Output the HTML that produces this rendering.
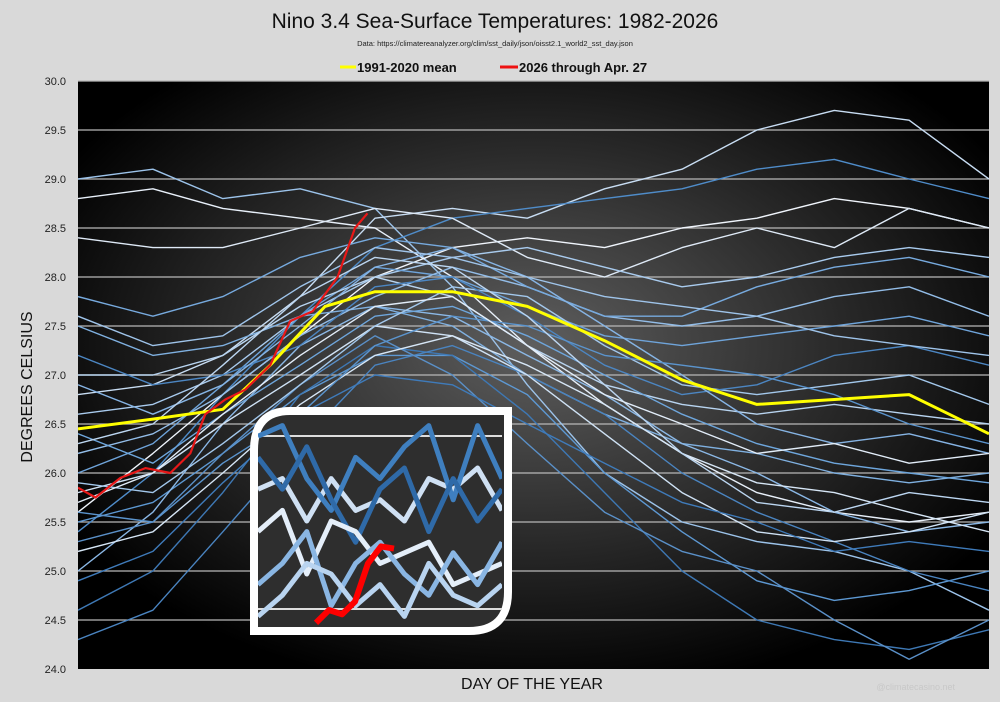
<!DOCTYPE html>
<html><head><meta charset="utf-8">
<style>
body{margin:0;background:#d9d9d9;font-family:"Liberation Sans",sans-serif;}
#wrap{position:relative;width:1000px;height:702px;overflow:hidden;background:#d9d9d9;}
svg text{font-family:"Liberation Sans",sans-serif;}
</style></head>
<body>
<div id="wrap">
<svg id="chart" width="1000" height="702" viewBox="0 0 1000 702">
<defs>
<radialGradient id="bg" cx="0.5" cy="0.45" r="0.6">
<stop offset="0" stop-color="#5e5e5e"/>
<stop offset="0.55" stop-color="#2a2a2a"/>
<stop offset="1" stop-color="#000"/>
</radialGradient>
<clipPath id="plotclip"><rect x="78" y="81" width="911" height="588"/></clipPath>
<clipPath id="insetclip"><rect x="258" y="415" width="244" height="212"/></clipPath>
</defs>
<text x="495" y="28" font-size="21" text-anchor="middle" fill="#111">Nino 3.4 Sea-Surface Temperatures: 1982-2026</text>
<text x="495" y="46" font-size="7.5" text-anchor="middle" fill="#222">Data: https://climatereanalyzer.org/clim/sst_daily/json/oisst2.1_world2_sst_day.json</text>
<g>
<g><line x1="340" y1="67" x2="356" y2="67" stroke="#ffff00" stroke-width="3"/><text x="357" y="72" font-size="13" font-weight="bold" fill="#111">1991-2020 mean</text></g>
<g><line x1="500" y1="67" x2="518" y2="67" stroke="#ee1111" stroke-width="3"/><text x="519" y="72" font-size="13" font-weight="bold" fill="#111">2026 through Apr. 27</text></g>
</g>
<rect x="78" y="81" width="911" height="588" fill="url(#bg)"/>
<g id="grid"></g>
<g id="yticks"></g>
<g id="series" clip-path="url(#plotclip)"></g>
<g id="meanG" clip-path="url(#plotclip)"></g>
<g id="redG" clip-path="url(#plotclip)"></g>
<g>
<path d="M290,411 H508 V592 Q508,631 469,631 H254 V450 Q254,411 290,411 Z" fill="#2e2e2e" stroke="#fff" stroke-width="8"/>
<g id="insetG" clip-path="url(#insetclip)"></g>
</g>
<text x="20" y="375" font-size="16" fill="#111" transform="rotate(-90 32 375)" text-anchor="middle">DEGREES CELSIUS</text>
<text x="532" y="689" font-size="16" fill="#111" text-anchor="middle">DAY OF THE YEAR</text>
<text x="955" y="690" font-size="9" fill="#c8c8c8" text-anchor="end">@climatecasino.net</text>
</svg>
</div>
<script>
const yTicks=[24.0,24.5,25.0,25.5,26.0,26.5,27.0,27.5,28.0,28.5,29.0,29.5,30.0];
const monthDays=[1,31,59,90,120,151,181,212,243,273,304,334,366];
const s1=[28.8,28.9,28.7,28.6,28.5,28.0,27.3,26.7,26.2,25.8,25.6,25.5,25.6];
const s2=[29.0,29.1,28.8,28.9,28.7,27.9,26.9,26.0,25.5,25.3,25.2,25.0,24.6];
const s3=[26.8,26.9,27.2,27.8,28.6,28.7,28.6,28.9,29.1,29.5,29.7,29.6,29.0];
const s4=[25.4,26.0,26.8,27.6,28.3,28.6,28.7,28.8,28.9,29.1,29.2,29.0,28.8];
const s5=[25.6,26.2,26.8,27.4,28.0,28.3,28.4,28.3,28.5,28.6,28.8,28.7,28.5];
const s6=[28.4,28.3,28.3,28.5,28.7,28.6,28.2,28.0,28.3,28.5,28.3,28.7,28.5];
const s7=[25.5,25.7,26.2,26.8,27.2,27.2,26.8,26.0,25.4,24.9,24.7,24.8,25.0];
const s8=[24.6,25.0,25.8,26.8,27.3,27.2,26.6,25.8,25.0,24.5,24.3,24.2,24.4];
const s9=[26.6,26.7,27.0,27.6,28.0,28.2,28.3,28.1,27.9,28.0,28.2,28.3,28.2];
const s10=[27.5,27.2,27.3,27.6,27.7,27.5,27.0,26.6,26.3,26.2,26.0,25.9,26.0];
const s11=[25.0,25.6,26.5,27.3,27.7,27.6,27.2,26.8,26.3,26.0,25.6,25.4,25.5];
const s12=[26.0,26.3,26.9,27.6,28.1,28.0,27.7,27.4,27.3,27.4,27.5,27.6,27.4];
const s13=[27.0,27.0,27.2,27.7,28.0,27.8,27.3,26.9,26.7,26.6,26.7,26.6,26.5];
const s14=[24.3,24.6,25.4,26.3,27.1,27.3,27.0,26.6,26.0,25.6,25.3,25.0,24.8];
const s15=[26.2,26.4,26.8,27.4,27.8,28.1,27.9,27.6,27.5,27.6,27.8,27.9,27.6];
const s16=[25.8,26.0,26.5,27.0,27.5,27.4,27.0,26.4,25.8,25.4,25.3,25.4,25.6];
const s17=[27.8,27.6,27.8,28.2,28.4,28.3,27.9,27.6,27.6,27.9,28.1,28.2,28.0];
const s18=[25.3,25.5,26.2,26.9,27.4,27.0,26.3,25.6,25.2,25.0,24.5,24.1,24.5];
const s19=[26.4,26.1,26.6,27.1,27.6,27.7,27.4,27.0,26.6,26.3,26.1,26.0,25.9];
const s20=[25.9,25.8,26.3,26.9,27.5,27.9,27.8,27.3,26.9,26.8,26.9,27.0,26.7];
const s21=[27.2,26.9,27.0,27.3,27.9,28.0,27.6,27.1,26.8,26.9,27.2,27.3,27.1];
const s22=[25.2,25.4,26.0,26.7,27.2,27.4,27.1,26.7,26.2,25.9,25.8,25.6,25.4];
const s23=[26.9,26.6,26.9,27.5,28.1,28.3,28.0,27.5,27.0,26.5,26.3,26.4,26.2];
const s24=[25.6,25.5,26.1,26.6,27.3,27.6,27.5,27.2,27.1,27.0,26.8,26.5,26.3];
const s25=[26.3,26.5,27.1,27.8,28.2,28.1,27.6,26.9,26.2,25.7,25.6,25.8,25.7];
const s26=[24.9,25.2,25.9,26.6,27.0,26.9,26.5,26.1,25.7,25.5,25.2,25.3,25.2];
const s27=[27.6,27.3,27.4,27.9,28.3,28.2,28.0,27.8,27.7,27.6,27.4,27.3,27.2];
const s28=[25.7,26.0,26.6,27.2,27.7,27.8,27.3,26.8,26.5,26.2,26.3,26.1,26.2];
const yearSeries=[s1,s2,s3,s4,s5,s6,s7,s8,s9,s10,s11,s12,s13,s14,s15,s16,s17,s18,s19,s20,s21,s22,s23,s24,s25,s26,s27,s28];
const seriesColors=["#e8f0fa","#9cc3ea","#c8ddf3","#4f8cc9","#f0f5fc","#dfeaf7","#5d98d2","#3e78b4","#a9cbee","#7fb0e0","#8bb8e6","#6fa4da","#b8d4f0","#4a84c0","#93bde8","#cfe2f5","#77aade","#5a90c8","#6ea6dc","#a3c8ec","#4c86c2","#d6e6f6","#86b4e4","#5b94cd","#bcd6f1","#3f7bba","#9fc4ea","#e2edf9"];
const meanDays=[1,31,59,78,100,120,151,181,212,243,273,304,334,350,366];
const meanVals=[26.45,26.55,26.65,27.1,27.7,27.85,27.85,27.7,27.35,26.95,26.7,26.75,26.8,26.6,26.4];
const redDays=[1,8,18,28,38,46,52,60,68,78,86,95,105,112,117];
const redVals=[25.85,25.75,25.95,26.05,26.0,26.2,26.6,26.75,26.85,27.1,27.55,27.65,28.0,28.5,28.65];
const insetA=[0.35,0.3,0.5,0.3,0.45,0.4,0.5,0.3,0.35,0.25,0.45];
const insetB=[0.1,0.05,0.3,0.45,0.2,0.3,0.15,0.05,0.4,0.05,0.3];
const insetC=[0.55,0.45,0.75,0.5,0.55,0.7,0.65,0.6,0.8,0.75,0.7];
const insetD=[0.8,0.7,0.55,0.9,0.7,0.6,0.75,0.85,0.65,0.8,0.6];
const insetE=[0.2,0.35,0.15,0.4,0.6,0.35,0.25,0.55,0.3,0.5,0.35];
const insetF=[0.95,0.85,0.7,0.75,0.9,0.8,0.95,0.7,0.85,0.9,0.8];
const insetSeries=[insetA,insetB,insetE,insetC,insetD,insetF];
const insetColors=["#cfe0f3","#3f7fbf","#2f6aa8","#e4eef9","#8ab6e3","#b9d4f0"];
const insetRed=[0.98,0.92,0.94,0.88,0.7,0.62,0.63];

const NS="http://www.w3.org/2000/svg";
const X0=78,X1=989,YT=81,YB=669,VMIN=24,VMAX=30,D0=1,D1=366;
function xs(d){return X0+(d-D0)/(D1-D0)*(X1-X0);}
function ys(v){return YB-(v-VMIN)/(VMAX-VMIN)*(YB-YT);}
function mk(tag,attrs,parent){const e=document.createElementNS(NS,tag);for(const k in attrs)e.setAttribute(k,attrs[k]);parent.appendChild(e);return e;}
const grid=document.getElementById('grid'),yt=document.getElementById('yticks');
yTicks.forEach(v=>{
  if(v>VMIN){const l=mk('line',{x1:X0,x2:X1,y1:ys(v),y2:ys(v),stroke:'#b8b8b8','stroke-width':1.2},grid);
  
  }
  const t=mk('text',{x:66,y:ys(v)+4,'font-size':11,'text-anchor':'end',fill:'#222'},yt);
  t.textContent=v.toFixed(1);
  
  
});
function pts(days,vals){return vals.map((v,i)=>xs(days[i]).toFixed(1)+','+ys(v).toFixed(1)).join(' ');}
const sg=document.getElementById('series');
yearSeries.forEach((s,i)=>{
  const p=mk('polyline',{points:pts(monthDays,s),fill:'none',stroke:seriesColors[i],'stroke-width':1.4,'stroke-linejoin':'round'},sg);
  
  
});
const m=mk('polyline',{points:pts(meanDays,meanVals),fill:'none',stroke:'#ffff00','stroke-width':3,'stroke-linejoin':'round'},document.getElementById('meanG'));


const r=mk('polyline',{points:pts(redDays,redVals),fill:'none',stroke:'#e81818','stroke-width':2.2,'stroke-linejoin':'round'},document.getElementById('redG'));


const ig=document.getElementById('insetG');
const IX0=258,IX1=502,IY0=415,IY1=627;
function ix(i,n){return IX0+i/(n-1)*(IX1-IX0);}
function iy(f){return IY0+f*(IY1-IY0);}
[[436],[609]].forEach(a=>{const l=mk('line',{x1:IX0,x2:IX1,y1:a[0],y2:a[0],stroke:'#ddd','stroke-width':2},ig);

});
insetSeries.forEach((s,k)=>{
  const p=mk('polyline',{points:s.map((f,i)=>ix(i,s.length).toFixed(1)+','+iy(f).toFixed(1)).join(' '),fill:'none',stroke:insetColors[k],'stroke-width':5,'stroke-linejoin':'round'},ig);
  
  
});
const ir=mk('polyline',{points:insetRed.map((f,i)=>(316+i*13).toFixed(1)+','+iy(f).toFixed(1)).join(' '),fill:'none',stroke:'#ff0000','stroke-width':6,'stroke-linejoin':'round'},ig);


</script>
</body></html>
